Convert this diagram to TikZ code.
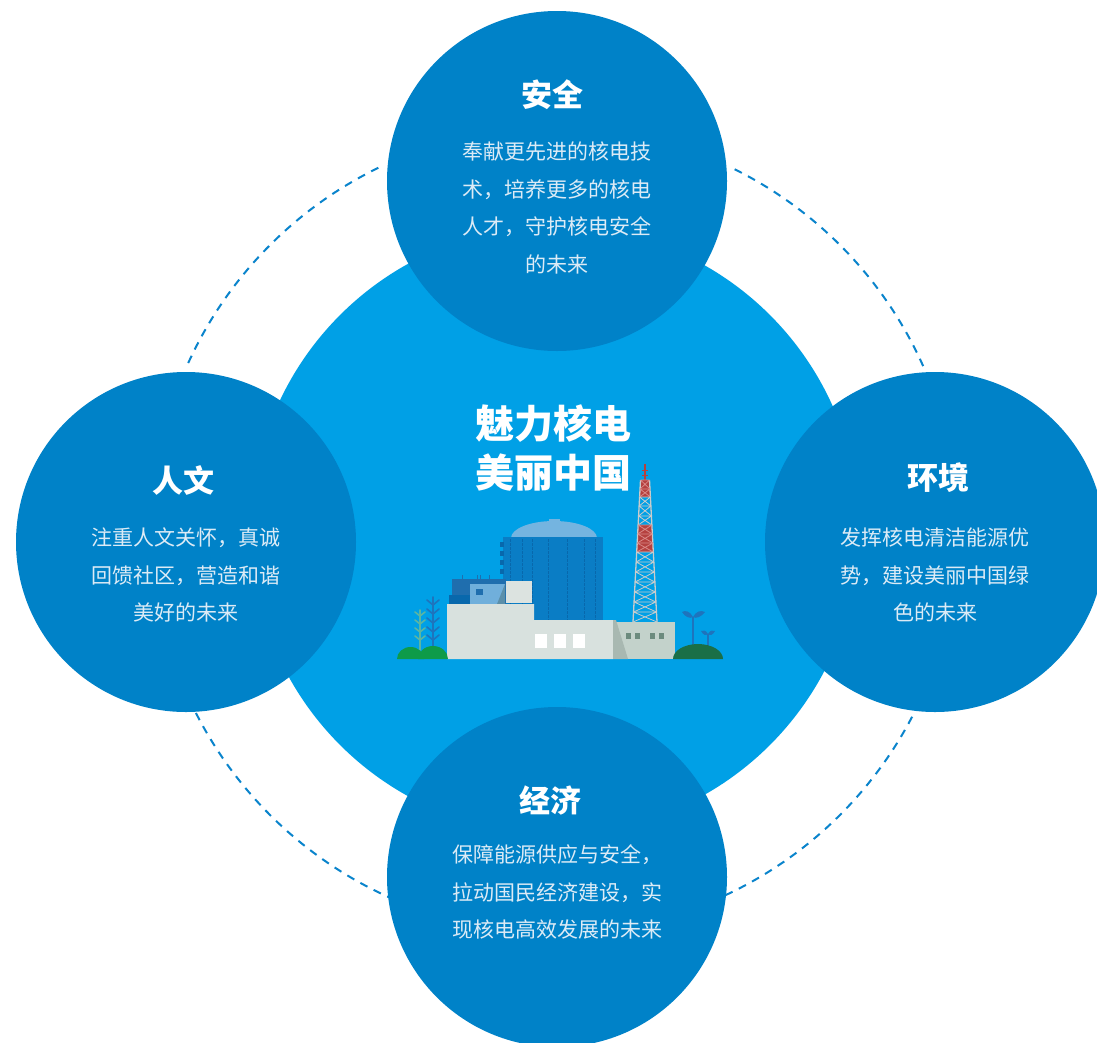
\documentclass[tikz,border=0pt]{standalone}
\usepackage{fontspec}
\setmainfont{Noto Sans CJK SC}
\usetikzlibrary{shapes}

\definecolor{corefill}{HTML}{00A0E6}
\definecolor{petalfill}{HTML}{0082C8}
\definecolor{ringline}{HTML}{0A84CC}
\definecolor{bodytext}{HTML}{DCEBF6}
% plant colours
\definecolor{domecol}{HTML}{74B4E0}
\definecolor{cylcol}{HTML}{0A7DC5}
\definecolor{stripecol}{HTML}{0868AC}
\definecolor{blockcol}{HTML}{1F6EAE}
\definecolor{paneblue}{HTML}{70AFDB}
\definecolor{shadeblue}{HTML}{5B8FAA}
\definecolor{greylight}{HTML}{DCE3E0}
\definecolor{hallfill}{HTML}{D8E1DE}
\definecolor{annexfill}{HTML}{C3D2CB}
\definecolor{annexshade}{HTML}{A8B8B1}
\definecolor{annexwin}{HTML}{6C8B7E}
\definecolor{tred}{HTML}{B5413F}
\definecolor{tredlight}{HTML}{D98886}
\definecolor{tgrey}{HTML}{C9CCCC}
\definecolor{leafgreen}{HTML}{0E9B49}
\definecolor{hilldark}{HTML}{1A6F47}
\definecolor{stemblue}{HTML}{1E74BD}
\definecolor{stemteal}{HTML}{5BB5A2}

\tikzstyle{corecircle}=[circle,fill=corefill,minimum size=608pt,inner sep=0pt]
\tikzstyle{petal}=[circle,fill=petalfill,minimum size=340pt,inner sep=0pt]
\tikzstyle{ringarc}=[draw=ringline,line width=2pt,dash pattern=on 8pt off 7pt]
\tikzstyle{petaltitle}=[text=white,font=\bfseries\fontsize{31}{36}\selectfont,inner sep=0pt]
\tikzstyle{petalbody}=[text=bodytext,font=\fontsize{21}{37.5}\selectfont,align=center,inner sep=0pt]
\tikzstyle{headline}=[text=white,font=\bfseries\fontsize{39}{49}\selectfont,align=center,inner sep=0pt]
\tikzstyle{stalk}=[line width=1.6pt,line cap=round]

\begin{document}
\begin{tikzpicture}[x=1pt,y=-1pt]

\fill[white] (0,0) rectangle (1097,1042);
\useasboundingbox (0,0) rectangle (1097,1042);

% centre disc and dashed ring
\node[corecircle] (core) at (555,530) {};
\foreach \a/\b in {24/64, 116/156, 207/246, 295/333}
    \draw[ringarc] (core.center) ++(\a:403pt) arc[start angle=\a, end angle=\b, radius=403pt];

% Label
\node[headline] (motto) at (553,448) {魅力核电\\美丽中国};

%reactor dome + containment
\fill[domecol] (511,538) arc[start angle=180, end angle=0, x radius=43pt, y radius=17pt];
\fill[domecol] (549,519) rectangle (560,522);
\fill[cylcol] (503,537) rectangle (603,620);
\foreach \sx in {510,522,532,548,567,584,595}
    \draw[stripecol, line width=0.6pt, dash pattern=on 3pt off 1pt] (\sx,539) -- (\sx,620);
\foreach \sy in {542,551,560,569}
    \fill[stripecol] (500,\sy) rectangle (504,\sy+5);

%left block
\fill[blockcol] (452,579) rectangle (506,604);
\fill[stripecol] (449,595) rectangle (470,604);
\foreach \ax in {462,477,480,489}
    \draw[blockcol, line width=1pt] (\ax,575) -- (\ax,579);
\fill[paneblue] (470,584) rectangle (505,604);
\fill[blockcol] (476,589) rectangle (483,595);
\fill[shadeblue] (505,584) -- (505,604) -- (497,604) -- cycle;
\fill[greylight] (506,581) rectangle (532,603);

%main hall
\fill[hallfill] (447,604) -- (534,604) -- (534,620) -- (613,620) -- (613,659) -- (447,659) -- cycle;
\foreach \wx in {535,554,573}
    \fill[white] (\wx,634) rectangle (\wx+12,648);

%annex
\fill[annexfill] (613,622) rectangle (675,659);
\fill[annexshade] (613,620) -- (616,620) -- (628,659) -- (613,659) -- cycle;
\foreach \wx in {626,635,650,659}
    \fill[annexwin] (\wx,633) rectangle (\wx+5,639);

%tower
\draw[tred, line width=1.5pt] (645,464) -- (645,480);
\draw[tred, line width=1pt] (642,470) -- (648,470) (642,475) -- (648,475);
\foreach \ya/\yb in {480/497, 525/552}{
    \pgfmathsetmacro\wa{4.5+7.5*(\ya-480)/142}
    \pgfmathsetmacro\wb{4.5+7.5*(\yb-480)/142}
    \fill[tred] (645-\wa,\ya) -- (645+\wa,\ya) -- (645+\wb,\yb) -- (645-\wb,\yb) -- cycle;
}
\foreach \ya/\yb/\col in {480/489/tredlight, 489/497/tredlight, 497/506/tgrey, 506/516/tgrey, 516/525/tgrey,
        525/534/tredlight, 534/543/tredlight, 543/552/tredlight, 552/562/tgrey, 562/572/tgrey, 572/582/tgrey,
        582/592/tgrey, 592/602/tgrey, 602/612/tgrey, 612/622/tgrey}{
    \pgfmathsetmacro\wa{4.5+7.5*(\ya-480)/142}
    \pgfmathsetmacro\wb{4.5+7.5*(\yb-480)/142}
    \draw[tgrey, line width=1.3pt] (645-\wa,\ya) -- (645-\wb,\yb) (645+\wa,\ya) -- (645+\wb,\yb);
    \draw[\col, line width=0.8pt] (645-\wa,\ya) -- (645+\wa,\ya) (645-\wa,\ya) -- (645+\wb,\yb) (645+\wa,\ya) -- (645-\wb,\yb);
}

%plants left
\draw[stemteal, stalk] (420,650) -- (420,610);
\foreach \y in {616,624,632,640}
    \draw[stemteal, stalk] (415,\y-4) -- (420,\y) -- (425,\y-4);
\draw[stemblue, stalk] (433,648) -- (433,597);
\foreach \y in {605,614,623,632,640}
    \draw[stemblue, stalk] (427,\y-5) -- (433,\y) -- (439,\y-5);
\fill[leafgreen] (397,659) arc[start angle=180, end angle=0, x radius=13.5pt, y radius=12pt];
\fill[leafgreen] (418,659) arc[start angle=180, end angle=0, x radius=15pt, y radius=13pt];

%plants right
\draw[stemblue, line width=2pt] (693,645) -- (693,617);
\fill[stemblue] (693,617) .. controls (690,611) and (685,610) .. (682,612) .. controls (685,617) and (690,619) .. (693,617);
\fill[stemblue] (693,617) .. controls (696,611) and (701,610) .. (705,612) .. controls (701,617) and (696,619) .. (693,617);
\draw[stemblue, line width=1.6pt] (708,646) -- (708,634);
\fill[stemblue] (708,634) .. controls (706,630) and (703,630) .. (701,631) .. controls (703,635) and (706,636) .. (708,634);
\fill[stemblue] (708,634) .. controls (710,630) and (713,630) .. (715,631) .. controls (713,635) and (710,636) .. (708,634);
\fill[hilldark] (673,659) arc[start angle=180, end angle=0, x radius=25pt, y radius=15pt];

% four themes
\foreach \pos/\name in {{(557,181)/safety}, {(186,542)/culture}, {(935,542)/nature}, {(557,877)/economy}}
    \node[petal] (\name) at \pos {};

\node[petaltitle] (safety-t) at (552,95) {安全};
\node[petalbody] (safety-b) at (557,208) {奉献更先进的核电技\\术，培养更多的核电\\人才，守护核电安全\\的未来};

\node[petaltitle] (culture-t) at (183,480) {人文};
\node[petalbody] (culture-b) at (186,575) {注重人文关怀，真诚\\回馈社区，营造和谐\\美好的未来};

\node[petaltitle] (nature-t) at (938,478) {环境};
\node[petalbody] (nature-b) at (935,575) {发挥核电清洁能源优\\势，建设美丽中国绿\\色的未来};

\node[petaltitle] (economy-t) at (550,800) {经济};
\node[petalbody] (economy-b) at (557,892) {保障能源供应与安全，\\拉动国民经济建设，实\\现核电高效发展的未来};

\end{tikzpicture}
\end{document}
